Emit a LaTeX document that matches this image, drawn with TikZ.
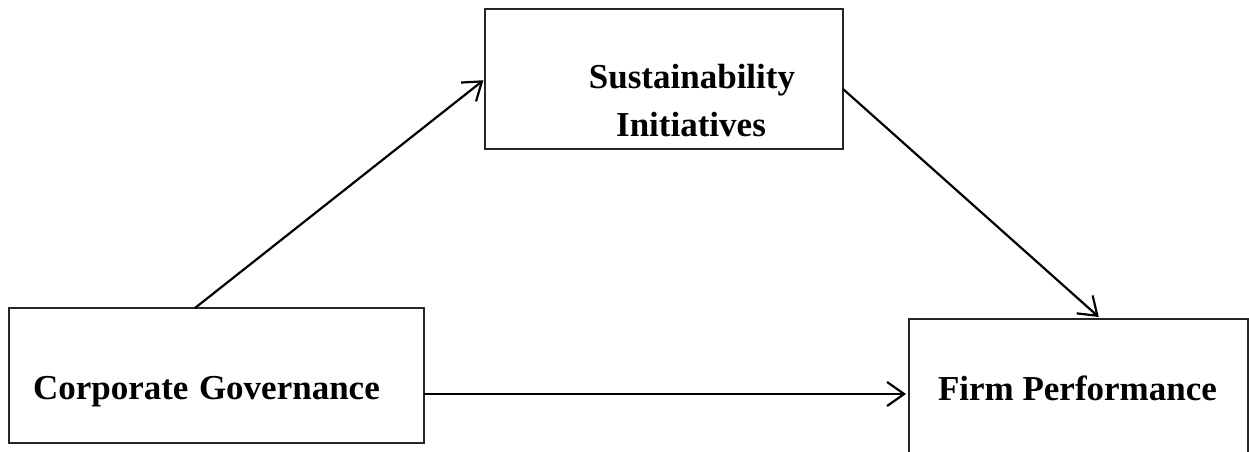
\documentclass[tikz,border=0pt]{standalone}
\usepackage{fontspec}
\setmainfont{Liberation Serif}
\usetikzlibrary{arrows.meta,calc}
\begin{document}
\begin{tikzpicture}[x=1bp,y=-1bp,
  box/.style={draw=black!85,line width=2.2bp,inner sep=0pt,outer sep=0pt,rectangle},
  lbl/.style={inner sep=0pt,outer sep=0pt,font=\fontsize{35bp}{40bp}\selectfont\bfseries,anchor=base west},
  arr/.style={line width=2.2bp,-{Straight Barb[length=17bp,width=24bp,line width=2.2bp]}}]
\useasboundingbox (0,0) rectangle (1249,452);
\clip (0,0) rectangle (1249,452);
\node[box,minimum width=415bp,minimum height=135bp] (cg) at (216.5,375.5) {};
\node[box,minimum width=358bp,minimum height=140bp] (si) at (664,79) {};
\node[box,minimum width=339bp,minimum height=160bp] (fp) at (1078.5,399) {};
\node[lbl] (cgt) at (33,400) {Corporate\hspace{0.3em}Governance};
\node[lbl] (fpt) at (938,401) {Firm\hspace{0.25em}Performance};
\node[lbl,anchor=base] (sit1) at (692,89) {Sustainability};
\node[lbl,anchor=base] (sit2) at (691,137) {Initiatives};
\draw[arr,shorten >=2bp] ($(cg.north west)+(186,0)$) -- (si.west);
\draw[arr,shorten >=3bp] ($(si.east)+(0,10)$) -- ($(fp.north west)+(192,0)$);
\draw[arr,shorten >=3bp] ($(cg.east)+(0,18.5)$) coordinate (h) -- (fp.west |- h);
\end{tikzpicture}
\end{document}
